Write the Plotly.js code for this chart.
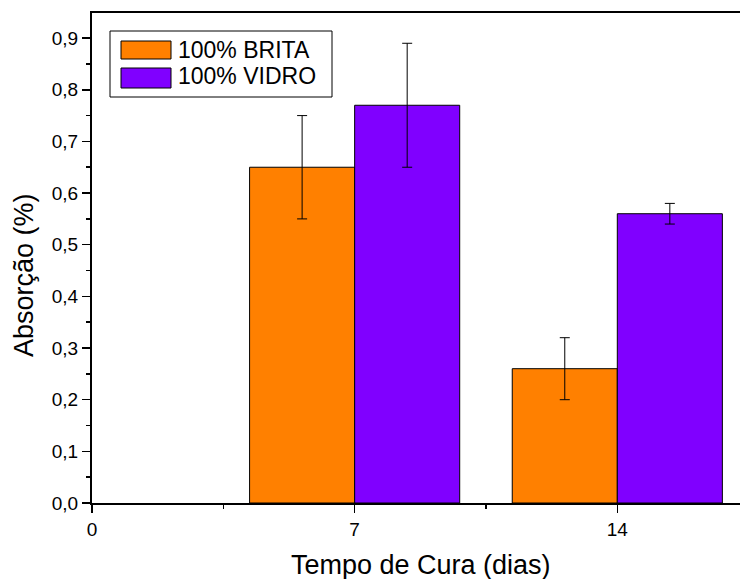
<!DOCTYPE html>
<html>
<head>
<meta charset="utf-8">
<script src="https://cdn.plot.ly/plotly-3.0.1.min.js"></script>
<style>html,body{margin:0;padding:0;background:#fff;}#chart{width:740px;height:579px;}</style>
</head>
<body>
<div id="chart"></div>
<script>
const days = [7, 14];
const seriesNames = ["100% BRITA", "100% VIDRO"];
const brita = [0.65, 0.26];
const britaErr = [0.10, 0.06];
const vidro = [0.77, 0.56];
const vidroErr = [0.12, 0.02];
const colors = ["#FF8000", "#8000FF"];
const xTicks = [0, 7, 14];
const yTicks = [0, 0.1, 0.2, 0.3, 0.4, 0.5, 0.6, 0.7, 0.8, 0.9];
const xTitle = "Tempo de Cura (dias)";
const yTitle = "Absorção (%)";

const barW = 2.8;
const traces = [
  {type: "bar", x: days, y: brita, name: seriesNames[0], width: barW, offset: -barW,
   marker: {color: colors[0], line: {color: "#000", width: 1}},
   error_y: {type: "data", array: britaErr, visible: true, color: "#000", thickness: 1, width: 5},
   showlegend: false},
  {type: "bar", x: days, y: vidro, name: seriesNames[1], width: barW, offset: 0,
   marker: {color: colors[1], line: {color: "#000", width: 1}},
   error_y: {type: "data", array: vidroErr, visible: true, color: "#000", thickness: 1, width: 5},
   showlegend: false}
];

const W = 740, H = 579, L = 92, T = 13, B = 76, R = 0;
const pw = W - L - R, ph = H - T - B;
function px(x) { return (x - L) / pw; }
function py(y) { return (H - B - y) / ph; }

const FONT = "Liberation Sans, Arial, sans-serif";
const shapes = [
  {type: "rect", xref: "paper", yref: "paper", x0: px(110), x1: px(332), y0: py(97), y1: py(31),
   line: {color: "#000", width: 1}, fillcolor: "#fff"},
  {type: "rect", xref: "paper", yref: "paper", x0: px(121), x1: px(171), y0: py(59), y1: py(41),
   line: {color: "#000", width: 1}, fillcolor: colors[0]},
  {type: "rect", xref: "paper", yref: "paper", x0: px(121), x1: px(171), y0: py(88), y1: py(68),
   line: {color: "#000", width: 1}, fillcolor: colors[1]}
];
const annotations = [
  {xref: "paper", yref: "paper", x: px(176), y: py(50), xanchor: "left", yanchor: "middle",
   text: seriesNames[0], showarrow: false, font: {family: FONT, size: 23, color: "#000"}},
  {xref: "paper", yref: "paper", x: px(176), y: py(76), xanchor: "left", yanchor: "middle",
   text: seriesNames[1], showarrow: false, font: {family: FONT, size: 23, color: "#000"}},
  {xref: "paper", yref: "paper", x: px(24), y: py(275), xanchor: "center", yanchor: "middle",
   textangle: -90, text: yTitle, showarrow: false, font: {family: FONT, size: 27, color: "#000"}},
  {xref: "paper", yref: "paper", x: px(421), y: py(565), xanchor: "center", yanchor: "middle",
   text: xTitle, showarrow: false, font: {family: FONT, size: 27, color: "#000"}}
];

const layout = {
  width: W, height: H,
  margin: {l: L, r: R, t: T, b: B, pad: 0},
  paper_bgcolor: "#fff", plot_bgcolor: "#fff",
  separators: ",.",
  font: {family: FONT, color: "#000"},
  barmode: "overlay",
  xaxis: {
    range: [0, 17.27], tickvals: xTicks, ticktext: xTicks.map(String),
    showline: true, linecolor: "#000", linewidth: 2, mirror: true,
    ticks: "outside", ticklen: 8, tickwidth: 1.5, tickcolor: "#000",
    minor: {dtick: 3.5, tick0: 0, ticks: "outside", ticklen: 4, tickwidth: 1.5, tickcolor: "#000"},
    showgrid: false, zeroline: false,
    tickfont: {size: 19}
  },
  yaxis: {
    range: [0, 0.9486], tickvals: yTicks, tickformat: ".1f",
    showline: true, linecolor: "#000", linewidth: 2,
    ticks: "outside", ticklen: 8, tickwidth: 1.5, tickcolor: "#000",
    minor: {dtick: 0.05, tick0: 0, ticks: "outside", ticklen: 4, tickwidth: 1.5, tickcolor: "#000"},
    showgrid: false, zeroline: false,
    tickfont: {size: 19}
  },
  shapes: shapes,
  annotations: annotations
};

Plotly.newPlot("chart", traces, layout, {displayModeBar: false, staticPlot: true});
</script>
</body>
</html>
